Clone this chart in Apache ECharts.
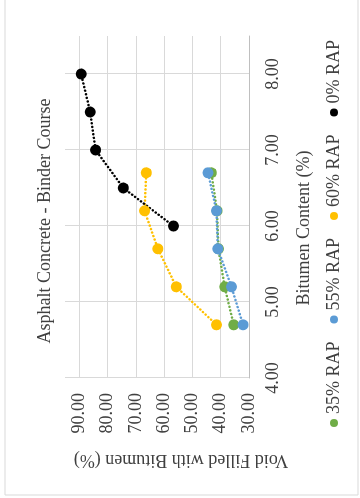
<!DOCTYPE html>
<html>
<head>
<meta charset="utf-8">
<script src="https://cdn.jsdelivr.net/npm/echarts@6/dist/echarts.min.js"></script>
<style>
  html, body { margin: 0; padding: 0; background: #fff; }
  body { width: 360px; height: 498px; overflow: hidden; position: relative; }
  /* The chart is laid out landscape (498 x 360) and turned a quarter turn counter-clockwise */
  #chart {
    position: absolute; left: 0; top: 0;
    width: 498px; height: 360px;
    transform-origin: 0 0;
    transform: translate(0, 498px) rotate(-90deg);
  }
</style>
</head>
<body>
<div id="chart"></div>
<script>
// Bitumen content (%) and void filled with bitumen (%) for each mix
const seriesNames = ['35% RAP', '55% RAP', '60% RAP', '0% RAP'];
const seriesColors = ['#70AD47', '#5B9BD5', '#FFC000', '#000000'];

const bitumen35 = [4.7, 5.2, 5.7, 6.2, 6.7];
const vfb35 = [35.4, 38.6, 40.8, 41.3, 43.3];

const bitumen55 = [4.7, 5.2, 5.7, 6.2, 6.7];
const vfb55 = [32.1, 36.2, 41.0, 41.5, 44.5];

const bitumen60 = [4.7, 5.2, 5.7, 6.2, 6.7];
const vfb60 = [41.5, 55.7, 62.2, 66.9, 66.3];

const bitumen0 = [6.0, 6.5, 7.0, 7.5, 8.0];
const vfb0 = [56.7, 74.4, 84.2, 86.1, 89.3];

const bitumenTicks = [4, 5, 6, 7, 8];
const vfbTicks = [30, 40, 50, 60, 70, 80, 90];

const FONT = '"Liberation Serif", "Times New Roman", serif';
const TEXT = '#404040';

function pairs(xs, ys) { return xs.map((x, i) => [x, ys[i]]); }
const seriesData = [
  pairs(bitumen35, vfb35),
  pairs(bitumen55, vfb55),
  pairs(bitumen60, vfb60),
  pairs(bitumen0, vfb0)
];

const chart = echarts.init(document.getElementById('chart'), null, { renderer: 'canvas' });
chart.setOption({
  animation: false,
  backgroundColor: '#fff',
  textStyle: { fontFamily: FONT },
  title: {
    text: 'Asphalt Concrete - Binder Course',
    left: 272, top: 31, textAlign: 'center',
    textStyle: { fontFamily: FONT, fontSize: 18, fontWeight: 'normal', color: TEXT }
  },
  legend: {
    data: seriesNames,
    left: 66, top: 320,
    icon: 'circle', itemWidth: 8, itemHeight: 8, itemGap: 18,
    textStyle: { fontFamily: FONT, fontSize: 18, color: TEXT }
  },
  graphic: [{
    type: 'rect', silent: true,
    shape: { x: 3, y: 5, width: 500, height: 353 },
    style: { fill: 'none', stroke: '#d9d9d9', lineWidth: 1 }
  }],
  grid: { left: 120, right: 36, top: 65, bottom: 111 },
  xAxis: {
    type: 'value', min: 4, max: 8.5, interval: 1,
    name: 'Bitumen Content (%)', nameLocation: 'middle', nameGap: 46,
    nameTextStyle: { fontFamily: FONT, fontSize: 18, color: TEXT, padding: [0, 42, 0, 0] },
    axisLine: { show: true, onZero: false, lineStyle: { color: '#bfbfbf', width: 1 } },
    axisTick: { show: false },
    axisLabel: {
      margin: 15, fontFamily: FONT, fontSize: 18, color: TEXT, showMaxLabel: false,
      formatter: v => bitumenTicks.includes(v) ? v.toFixed(2) : ''
    },
    splitLine: { show: true, showMaxLine: false, lineStyle: { color: '#d9d9d9', width: 1 } }
  },
  yAxis: {
    type: 'value', min: 30, max: 95, interval: 10,
    name: 'Void Filled with Bitumen (%)', nameLocation: 'middle', nameGap: 73,
    nameTextStyle: { fontFamily: FONT, fontSize: 18, color: TEXT, padding: [0, 48, 0, 0] },
    axisLine: { show: false },
    axisTick: { show: false },
    axisLabel: {
      margin: 15, fontFamily: FONT, fontSize: 18, color: TEXT, showMaxLabel: false,
      formatter: v => vfbTicks.includes(v) ? v.toFixed(2) : ''
    },
    splitLine: { show: true, showMaxLine: false, showMinLine: false, lineStyle: { color: '#d9d9d9', width: 1 } }
  },
  series: seriesNames.map((name, i) => ({
    name: name,
    type: 'line',
    data: seriesData[i],
    symbol: 'circle',
    symbolSize: 11,
    color: seriesColors[i],
    itemStyle: { color: seriesColors[i] },
    // round dots along each connecting line
    lineStyle: { color: seriesColors[i], width: 2.5, type: [0.1, 3.6], cap: 'round' }
  }))
});
</script>
</body>
</html>
